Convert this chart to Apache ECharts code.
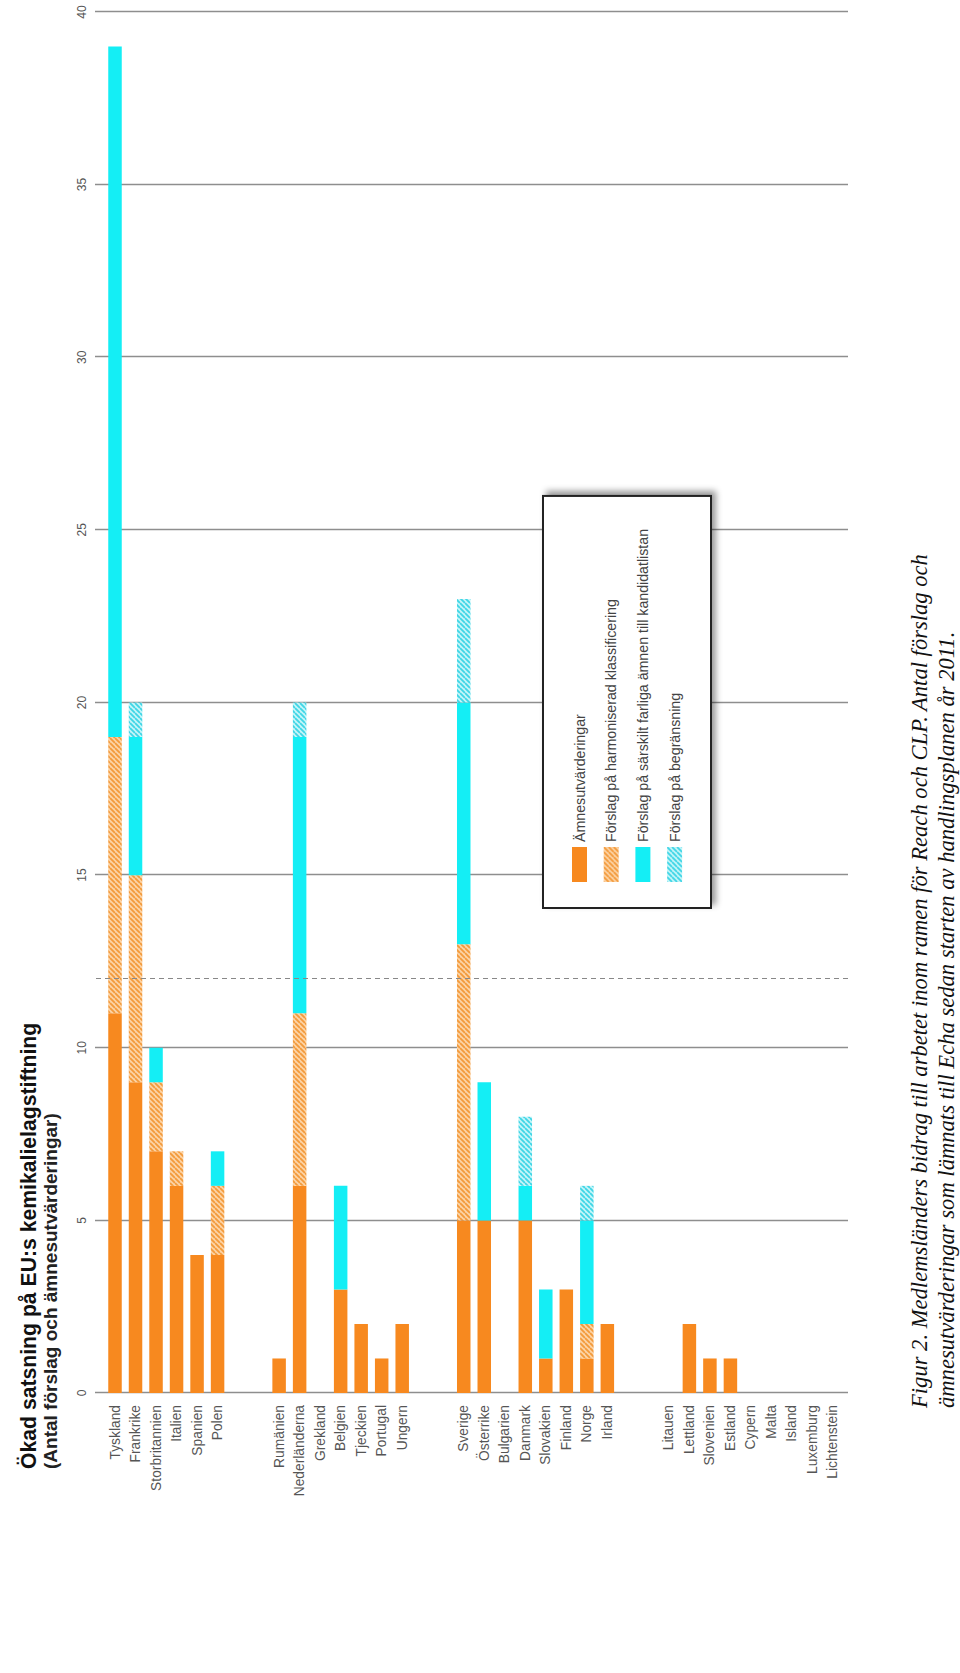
<!DOCTYPE html>
<html>
<head>
<meta charset="utf-8">
<script src="https://cdn.jsdelivr.net/npm/echarts@6/dist/echarts.min.js"></script>
<style>
html, body { margin: 0; padding: 0; background: #fff; width: 960px; height: 1673px; overflow: hidden; }
#chart { position: absolute; left: 0; top: 0; width: 1673px; height: 960px; transform-origin: 0 0; transform: translate(0, 1673px) rotate(-90deg); background: #fff; }
</style>
</head>
<body>
<div id="chart"></div>
<script>
// ---- data ----
const categories = ['Tyskland', 'Frankrike', 'Storbritannien', 'Italien', 'Spanien', 'Polen', ' ', '  ',
  'Rumänien', 'Nederländerna', 'Grekland', 'Belgien', 'Tjeckien', 'Portugal', 'Ungern', '   ', '    ',
  'Sverige', 'Österrike', 'Bulgarien', 'Danmark', 'Slovakien', 'Finland', 'Norge', 'Irland', '     ', '      ',
  'Litauen', 'Lettland', 'Slovenien', 'Estland', 'Cypern', 'Malta', 'Island', 'Luxemburg', 'Lichtenstein'];

const amnesutvarderingar = [11, 9, 7, 6, 4, 4, 0, 0, 1, 6, 0, 3, 2, 1, 2, 0, 0, 5, 5, 0, 5, 1, 3, 1, 2, 0, 0, 0, 2, 1, 1, 0, 0, 0, 0, 0];
const harmoniseradKlassificering = [8, 6, 2, 1, 0, 2, 0, 0, 0, 5, 0, 0, 0, 0, 0, 0, 0, 8, 0, 0, 0, 0, 0, 1, 0, 0, 0, 0, 0, 0, 0, 0, 0, 0, 0, 0];
const kandidatlistan = [20, 4, 1, 0, 0, 1, 0, 0, 0, 8, 0, 3, 0, 0, 0, 0, 0, 7, 4, 0, 1, 2, 0, 3, 0, 0, 0, 0, 0, 0, 0, 0, 0, 0, 0, 0];
const begransning = [0, 1, 0, 0, 0, 0, 0, 0, 0, 1, 0, 0, 0, 0, 0, 0, 0, 3, 0, 0, 2, 0, 0, 1, 0, 0, 0, 0, 0, 0, 0, 0, 0, 0, 0, 0];

const seriesNames = ['Ämnesutvärderingar', 'Förslag på harmoniserad klassificering',
  'Förslag på särskilt farliga ämnen till kandidatlistan', 'Förslag på begränsning'];

const axisMin = 0, axisMax = 40, axisInterval = 5;
const referenceLine = 12;

const titleText = 'Ökad satsning på EU:s kemikalielagstiftning';
const subtitleText = '(Antal förslag och ämnesutvärderingar)';
const captionLines = ['Figur 2. Medlemsländers bidrag till arbetet inom ramen för Reach och CLP. Antal förslag och',
  'ämnesutvärderingar som lämnats till Echa sedan starten av handlingsplanen år 2011.'];

// ---- hatch pattern ----
function hatch(base, stripe) {
  const s = 5;
  const c = document.createElement('canvas');
  c.width = s; c.height = s;
  const g = c.getContext('2d');
  g.fillStyle = base; g.fillRect(0, 0, s, s);
  g.strokeStyle = stripe; g.lineWidth = 1.8;
  g.beginPath();
  [-s, 0, s].forEach(function (o) { g.moveTo(o, s); g.lineTo(o + s, 0); });
  g.stroke();
  return { image: c, repeat: 'repeat' };
}

const chart = echarts.init(document.getElementById('chart'), null, { renderer: 'svg', width: 1673, height: 960 });

const barCommon = { type: 'bar', stack: 'total', xAxisIndex: 0, yAxisIndex: 0, barWidth: 13.5, silent: true };

chart.setOption({
  animation: false,
  backgroundColor: '#fff',
  title: [
    {
      text: titleText, subtext: subtitleText, left: 204, top: 18, padding: 0, itemGap: 2,
      textStyle: { fontFamily: 'Liberation Sans', fontWeight: 'bold', fontSize: 21.2, color: '#111' },
      subtextStyle: { fontFamily: 'Liberation Sans', fontWeight: 'bold', fontSize: 19, color: '#222' }
    },
    {
      text: captionLines.join('\n'), left: 265, top: 906, padding: 0,
      textStyle: { fontFamily: 'Liberation Serif', fontStyle: 'italic', fontWeight: 'normal', fontSize: 22.6, lineHeight: 27, color: '#111' }
    }
  ],
  legend: {
    orient: 'vertical', left: 765, top: 543, data: seriesNames, icon: 'rect',
    itemWidth: 35, itemHeight: 15, itemGap: 16.7, padding: [29, 33, 29, 26],
    borderColor: '#222', borderWidth: 2, backgroundColor: '#fff',
    shadowColor: 'rgba(0,0,0,0.4)', shadowBlur: 6, shadowOffsetX: 4, shadowOffsetY: 4,
    selectedMode: false,
    textStyle: { fontFamily: 'Liberation Sans', fontSize: 14.2, color: '#444' }
  },
  grid: [
    { left: 280, right: 12, top: 104.75, bottom: 116.75 },
    { left: 280, right: 12, top: 95, bottom: 112 }
  ],
  xAxis: [
    { gridIndex: 0, type: 'value', min: axisMin, max: axisMax, show: false },
    {
      gridIndex: 1, type: 'value', min: axisMin, max: axisMax, interval: axisInterval, position: 'top',
      axisLine: { show: false }, axisTick: { show: false },
      axisLabel: { margin: 7, fontFamily: 'Liberation Sans', fontSize: 12, color: '#555' },
      splitLine: { show: true, lineStyle: { color: '#8e8e8e', width: 1.3 } }
    }
  ],
  yAxis: [
    {
      gridIndex: 0, type: 'category', data: categories, inverse: true,
      axisLine: { show: false }, axisTick: { show: false },
      axisLabel: { interval: 0, margin: 12, fontFamily: 'Liberation Sans', fontSize: 13.8, color: '#555' }
    },
    { gridIndex: 1, type: 'value', min: 0, max: 1, show: false }
  ],
  series: [
    Object.assign({}, barCommon, { name: seriesNames[0], data: amnesutvarderingar, itemStyle: { color: '#f7891f' } }),
    Object.assign({}, barCommon, { name: seriesNames[1], data: harmoniseradKlassificering, itemStyle: { color: hatch('#fcd3a5', '#f39a3b') } }),
    Object.assign({}, barCommon, { name: seriesNames[2], data: kandidatlistan, itemStyle: { color: '#14eef5' } }),
    Object.assign({}, barCommon, { name: seriesNames[3], data: begransning, itemStyle: { color: hatch('#c4f5f8', '#3fd5e6') } }),
    {
      type: 'line', xAxisIndex: 1, yAxisIndex: 1, data: [], silent: true,
      markLine: {
        symbol: 'none', silent: true, label: { show: false },
        lineStyle: { color: '#888', type: [5, 4], width: 1 },
        data: [{ xAxis: referenceLine }]
      }
    }
  ]
});
</script>
</body>
</html>
